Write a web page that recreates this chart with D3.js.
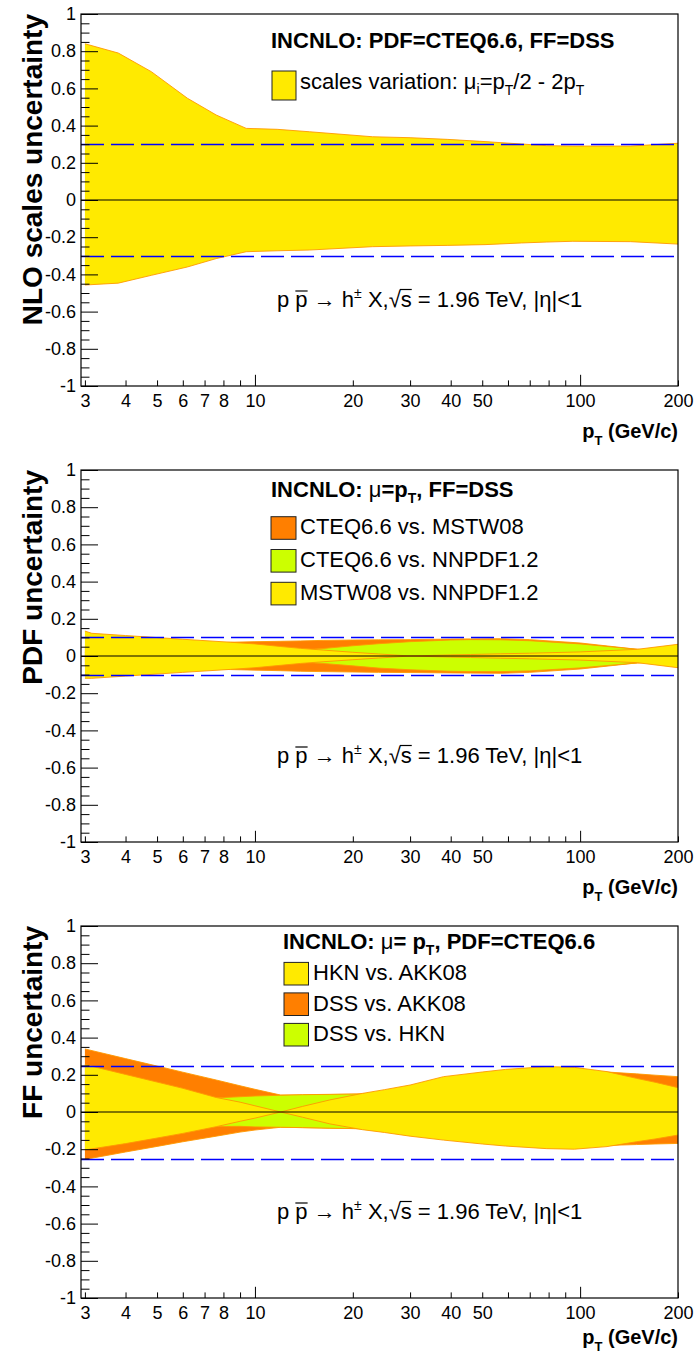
<!DOCTYPE html>
<html><head><meta charset="utf-8">
<script src="https://cdn.jsdelivr.net/npm/d3@7"></script>
<style>
body{margin:0;background:#fff}
svg{display:block}
text{font-family:"Liberation Sans",Arial,Helvetica,sans-serif;white-space:pre}
</style>
</head><body>
<svg id="c" width="697" height="1358"></svg>
<script>
// ---------------- data ----------------
// Panel 1: NLO scale uncertainty
const scalePt = [3, 3.8, 4.8, 6.2, 7.6, 9.4, 11.7, 14.7, 23, 30, 39, 51, 66, 79, 95, 143, 200];
const scaleUp = [0.84, 0.79, 0.69, 0.547, 0.457, 0.385, 0.38, 0.367, 0.34, 0.335, 0.326, 0.314, 0.301, 0.292, 0.29, 0.29, 0.305];
const scaleLo = [-0.457, -0.447, -0.405, -0.36, -0.315, -0.278, -0.273, -0.269, -0.251, -0.247, -0.244, -0.24, -0.231, -0.226, -0.222, -0.224, -0.237];

// Panel 2: PDF uncertainty
const pdfPt = [3, 3.15, 4, 5, 6, 8.4, 10, 12, 13.8, 16.2, 20, 24, 30, 40, 46, 57, 70, 100, 150, 200];
const cteqMstwUp = [0.05, 0.05, 0.055, 0.06, 0.065, 0.074, 0.077, 0.079, 0.081, 0.084, 0.086, 0.087, 0.088, 0.091, 0.092, 0.093, 0.088, 0.07, 0.036, 0.025];
const cteqMstwLo = [-0.05, -0.05, -0.055, -0.06, -0.065, -0.073, -0.076, -0.079, -0.082, -0.084, -0.086, -0.088, -0.089, -0.091, -0.092, -0.093, -0.088, -0.07, -0.037, -0.025];
const cteqNnpdfUp = [0.02, 0.02, 0.02, 0.02, 0.02, 0.02, 0.022, 0.028, 0.033, 0.04, 0.055, 0.066, 0.077, 0.086, 0.088, 0.087, 0.082, 0.065, 0.036, 0.025];
const cteqNnpdfLo = [-0.02, -0.02, -0.02, -0.02, -0.02, -0.02, -0.022, -0.028, -0.033, -0.04, -0.053, -0.065, -0.074, -0.082, -0.084, -0.084, -0.08, -0.064, -0.037, -0.025];
const mstwNnpdfUp = [0.134, 0.122, 0.11, 0.099, 0.09, 0.074, 0.065, 0.051, 0.041, 0.032, 0.02, 0.011, 0.0, -0.006, -0.008, -0.012, -0.015, -0.022, -0.036, -0.063];
const mstwNnpdfLo = [-0.12, -0.12, -0.108, -0.097, -0.088, -0.072, -0.063, -0.05, -0.04, -0.031, -0.02, -0.011, 0.0, 0.006, 0.008, 0.012, 0.015, 0.022, 0.036, 0.063];

// Panel 3: FF uncertainty
const ffPt = [3, 4, 5, 6, 7.6, 9, 10, 12, 14, 17, 21.4, 25, 30, 38, 50, 59, 79, 96, 121, 149, 170, 200];
const hknAkkUp = [0.255, 0.202, 0.161, 0.1275, 0.078, 0.053, 0.0335, 0.0, -0.028, -0.064, -0.095, -0.11, -0.13, -0.151, -0.172, -0.183, -0.197, -0.2, -0.186, -0.16, -0.145, -0.124];
const hknAkkLo = [-0.204, -0.17, -0.14, -0.115, -0.079, -0.05, -0.033, 0.0, 0.03, 0.065, 0.1, 0.12, 0.145, 0.19, 0.215, 0.229, 0.244, 0.24, 0.217, 0.181, 0.16, 0.131];
const dssAkkUp = [0.339, 0.287, 0.247, 0.214, 0.172, 0.141, 0.122, 0.091, 0.092, 0.094, 0.097, 0.11, 0.13, 0.16, 0.19, 0.2, 0.21, 0.215, 0.215, 0.205, 0.198, 0.19];
const dssAkkLo = [-0.255, -0.215, -0.185, -0.16, -0.13, -0.108, -0.097, -0.082, -0.084, -0.087, -0.09, -0.1, -0.11, -0.13, -0.15, -0.16, -0.172, -0.178, -0.18, -0.175, -0.172, -0.169];
const dssHknUp = [0.06, 0.064, 0.068, 0.071, 0.076, 0.082, 0.086, 0.09, 0.093, 0.095, 0.097, 0.1, 0.1, 0.1, 0.1, 0.1, 0.1, 0.098, 0.096, 0.094, 0.092, 0.09];
const dssHknLo = [-0.06, -0.063, -0.066, -0.07, -0.078, -0.077, -0.08, -0.082, -0.084, -0.087, -0.09, -0.09, -0.09, -0.09, -0.09, -0.09, -0.09, -0.09, -0.09, -0.09, -0.09, -0.09];

// reference (dashed) levels and labels
const refLevels = [0.3, 0.1, 0.25];
const yTitles = ["NLO scales uncertainty", "PDF uncertainty", "FF uncertainty"];
const yTickValues = [-1, -0.8, -0.6, -0.4, -0.2, 0, 0.2, 0.4, 0.6, 0.8, 1];
const xTickLabels = [3, 4, 5, 6, 7, 8, 10, 20, 30, 40, 50, 100, 200];
const xMajorTicks = [10, 100];
const xMinorTicks = [3, 4, 5, 6, 7, 8, 9, 20, 30, 40, 50, 60, 70, 80, 90, 200];
const pdfLegend = ["CTEQ6.6 vs. MSTW08", "CTEQ6.6 vs. NNPDF1.2", "MSTW08 vs. NNPDF1.2"];
const ffLegend = ["HKN vs. AKK08", "DSS vs. AKK08", "DSS vs. HKN"];

// ---------------- drawing ----------------
const YEL = "#ffea00", ORA = "#ff7f00", GRN = "#ccff00", EDGE = "#ff9900";
const svg = d3.select("#c");
const FONT = '"Liberation Sans",Arial,Helvetica,sans-serif';

function rich(parent, x, y, segs, anchor) {
  const g = parent.append("g");
  let cx = 0;
  segs.forEach(s => {
    const size = s.size || 22;
    const t = g.append("text")
      .attr("x", cx).attr("y", s.dy || 0)
      .attr("font-size", size)
      .attr("font-weight", s.bold ? "bold" : "normal")
      .attr("fill", "#000")
      .text(s.t);
    const w = t.node().getComputedTextLength();
    if (s.over) {
      g.append("line").attr("x1", cx + (s.ox || 0)).attr("x2", cx + w)
        .attr("y1", -s.over).attr("y2", -s.over)
        .attr("stroke", "#000").attr("stroke-width", 1.2);
    }
    cx += w + (s.gap || 0);
  });
  const shift = anchor === "end" ? -cx : anchor === "middle" ? -cx / 2 : 0;
  g.attr("transform", `translate(${x + shift},${y})`);
  return g;
}

function band(g, x, y, pts, up, lo, color) {
  const rows = pts.map((p, i) => ({ p, u: up[i], l: lo[i] }));
  const area = d3.area().x(d => x(d.p)).y0(d => y(d.l)).y1(d => y(d.u));
  g.append("path").datum(rows).attr("d", area).attr("fill", color).attr("stroke", "none");
  const lu = d3.line().x(d => x(d.p)).y(d => y(d.u));
  const ll = d3.line().x(d => x(d.p)).y(d => y(d.l));
  g.append("path").datum(rows).attr("d", lu).attr("fill", "none").attr("stroke", EDGE).attr("stroke-width", 0.9);
  g.append("path").datum(rows).attr("d", ll).attr("fill", "none").attr("stroke", EDGE).attr("stroke-width", 0.9);
}

function formula(g, x, y) {
  rich(g, x, y, [
    { t: "p " },
    { t: "p", over: 16 },
    { t: " \u2192 h" },
    { t: "\u00b1", size: 14, dy: -9 },
    { t: " X," },
    { t: "\u221a" },
    { t: "s", over: 17.5, ox: -1 },
    { t: " = 1.96 TeV, |\u03b7|<1" }
  ]);
}

const L = 81, R = 678;
const bands = [
  [{ pts: scalePt, up: scaleUp, lo: scaleLo, c: YEL }],
  [{ pts: pdfPt, up: cteqMstwUp, lo: cteqMstwLo, c: ORA },
   { pts: pdfPt, up: cteqNnpdfUp, lo: cteqNnpdfLo, c: GRN },
   { pts: pdfPt, up: mstwNnpdfUp, lo: mstwNnpdfLo, c: YEL }],
  [{ pts: ffPt, up: dssAkkUp, lo: dssAkkLo, c: ORA },
   { pts: ffPt, up: dssHknUp, lo: dssHknLo, c: GRN },
   { pts: ffPt, up: hknAkkUp, lo: hknAkkLo, c: YEL }]
];

for (let i = 0; i < 3; i++) {
  const top = 14 + 456 * i, bottom = top + 372;
  const x = d3.scaleLog().domain([2.918, 200]).range([L, R]);
  const y = d3.scaleLinear().domain([-1, 1]).range([bottom, top]);
  const g = svg.append("g");

  bands[i].forEach(b => band(g, x, y, b.pts, b.up, b.lo, b.c));

  // dashed reference lines (snapped to pixel centres)
  [refLevels[i], -refLevels[i]].forEach(v => {
    const yy = Math.round(y(v)) + 0.5;
    g.append("line").attr("x1", L).attr("x2", R).attr("y1", yy).attr("y2", yy)
      .attr("stroke", "#0000ff").attr("stroke-width", 1.5).attr("stroke-dasharray", "23,7");
  });
  // zero line
  g.append("line").attr("x1", L).attr("x2", R).attr("y1", y(0)).attr("y2", y(0))
    .attr("stroke", "#000").attr("stroke-width", 1);

  // frame
  g.append("rect").attr("x", L).attr("y", top).attr("width", R - L).attr("height", bottom - top)
    .attr("fill", "none").attr("stroke", "#000").attr("stroke-width", 1.2);

  // y axis
  const yMinor = d3.range(-20, 21).filter(k => k % 4 !== 0).map(k => k * 0.05);
  const ay1 = g.append("g").attr("transform", `translate(${L},0)`)
    .call(d3.axisLeft(y).tickValues(yMinor).tickSize(-8.5).tickFormat(""));
  const ay2 = g.append("g").attr("transform", `translate(${L},0)`)
    .call(d3.axisLeft(y).tickValues(yTickValues).tickSize(-17).tickPadding(5).tickFormat(d => String(d)));
  [ay1, ay2].forEach(a => { a.select(".domain").remove(); a.attr("font-size", 18).attr("font-family", FONT); });
  ay2.selectAll("text").attr("fill", "#000");

  // x axis
  const ax1 = g.append("g").attr("transform", `translate(0,${bottom})`)
    .call(d3.axisBottom(x).tickValues(xMinorTicks).tickSize(-5.6).tickFormat(""));
  const ax2 = g.append("g").attr("transform", `translate(0,${bottom})`)
    .call(d3.axisBottom(x).tickValues(xMajorTicks).tickSize(-11.2).tickFormat(""));
  const ax3 = g.append("g").attr("transform", `translate(0,${bottom})`)
    .call(d3.axisBottom(x).tickValues(xTickLabels).tickSize(0).tickPadding(8).tickFormat(d => String(d)));
  [ax1, ax2, ax3].forEach(a => { a.select(".domain").remove(); a.attr("font-size", 18).attr("font-family", FONT); });
  ax3.selectAll("text").attr("fill", "#000");

  // axis titles
  g.append("text").attr("transform", `translate(41.5,${top}) rotate(-90)`)
    .attr("text-anchor", "end").attr("font-size", 28).attr("font-weight", "bold")
    .attr("fill", "#000").text(yTitles[i]);
  rich(g, R, bottom + (i === 2 ? 46 : 52), [
    { t: "p", bold: true, size: 20 },
    { t: "T", bold: true, size: 13, dy: 7 },
    { t: " (GeV/c)", bold: true, size: 20 }
  ], "end");

  // collision formula
  formula(g, 277, top + 293);

  if (i === 0) {
    rich(g, 271, top + 34, [{ t: "INCNLO: PDF=CTEQ6.6, FF=DSS", bold: true }]);
    g.append("rect").attr("x", 272).attr("y", top + 57).attr("width", 24).attr("height", 29)
      .attr("fill", YEL).attr("stroke", "#222").attr("stroke-width", 1);
    rich(g, 300, top + 75, [
      { t: "scales variation: " },
      { t: "\u03bc" },
      { t: "i", size: 14, dy: 5 },
      { t: "=p" },
      { t: "T", size: 14, dy: 6 },
      { t: "/2 - 2p" },
      { t: "T", size: 14, dy: 6 }
    ]);
  } else if (i === 1) {
    rich(g, 271, top + 27, [
      { t: "INCNLO:", bold: true },
      { t: " \u03bc" },
      { t: "=p", bold: true },
      { t: "T", bold: true, size: 14, dy: 6 },
      { t: ", FF=DSS", bold: true }
    ]);
    const cols = [ORA, GRN, YEL];
    pdfLegend.forEach((lab, k) => {
      const base = top + 64.3 + k * 32.8;
      g.append("rect").attr("x", 271).attr("y", base - 17.6).attr("width", 25).attr("height", 22.6)
        .attr("fill", cols[k]).attr("stroke", "#222").attr("stroke-width", 1);
      rich(g, 300, base, [{ t: lab }]);
    });
  } else {
    rich(g, 283, top + 23, [
      { t: "INCNLO:", bold: true },
      { t: " \u03bc" },
      { t: "= p", bold: true },
      { t: "T", bold: true, size: 14, dy: 6 },
      { t: ", PDF=CTEQ6.6", bold: true }
    ]);
    const cols = [YEL, ORA, GRN];
    ffLegend.forEach((lab, k) => {
      const base = top + 54 + k * 30.5;
      g.append("rect").attr("x", 284).attr("y", base - 17.6).attr("width", 24.5).attr("height", 22.6)
        .attr("fill", cols[k]).attr("stroke", "#222").attr("stroke-width", 1);
      rich(g, 313, base, [{ t: lab }]);
    });
  }
}
</script>
</body></html>
